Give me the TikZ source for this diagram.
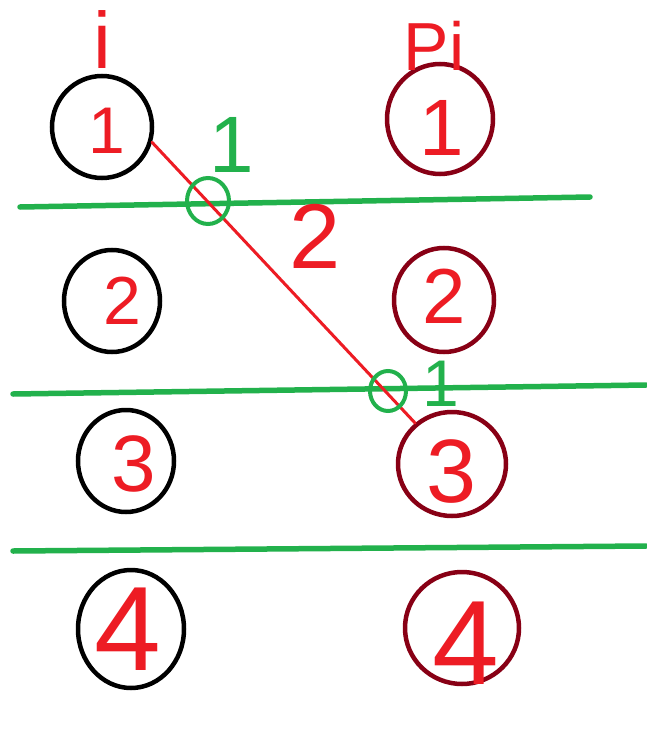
\documentclass[tikz,border=0pt]{standalone}
\usepackage{fontspec}
\setmainfont{Liberation Sans}
\usetikzlibrary{shapes.geometric}
\definecolor{pred}{HTML}{ED1C24}
\definecolor{pgreen}{HTML}{22B14C}
\definecolor{pdark}{HTML}{880015}
\tikzset{
  lcirc/.style={ellipse,draw=black,line width=4.5pt,inner sep=0pt},
  rcirc/.style={ellipse,draw=pdark,line width=4.5pt,inner sep=0pt},
  gcirc/.style={ellipse,draw=pgreen,line width=4pt,inner sep=0pt},
  gline/.style={draw=pgreen,line width=5.5pt,line cap=round},
  rline/.style={draw=pred,line width=3pt,line cap=round},
  rtxt/.style={text=pred,inner sep=0pt,font=\fontsize{#1}{#1}\selectfont},
  gtxt/.style={text=pgreen,inner sep=0pt,font=\fontsize{#1}{#1}\selectfont},
}
\begin{document}
\begin{tikzpicture}[x=1pt,y=-1pt]
\useasboundingbox[fill=white] (0,0) rectangle (646,733);
% green lines
\coordinate (g1a) at (20,207); \coordinate (g1b) at (590,197);
\coordinate (g2a) at (13,394); \coordinate (g2b) at (646,385);
\coordinate (g3a) at (13,551); \coordinate (g3b) at (646,546);
\draw[gline] (g1a) -- (g1b);
\draw[gline] (g2a) -- (g2b);
\draw[gline] (g3a) -- (g3b);
% left circles
\node[lcirc,minimum width=100pt,minimum height=102pt] (L1) at (102,127) {};
\node[lcirc,minimum width=96pt,minimum height=102pt] (L2) at (112,301) {};
\node[lcirc,minimum width=96pt,minimum height=102pt] (L3) at (126,461) {};
\node[lcirc,minimum width=106pt,minimum height=118pt] (L4) at (131,629) {};
% right circles
\node[rcirc,minimum width=106pt,minimum height=110pt] (R1) at (440,119) {};
\node[rcirc,minimum width=100pt,minimum height=104pt] (R2) at (444,300) {};
\node[rcirc,minimum width=108pt,minimum height=104pt] (R3) at (452,464) {};
\node[rcirc,minimum width=114pt,minimum height=112pt] (R4) at (462,628) {};
% digits
\node[rtxt=66] (tL1) at (107,131) {1};
\node[rtxt=68] (tL2) at (122,301) {2};
\node[rtxt=80] (tL3) at (134,464) {3};
\node[rtxt=120] (tL4) at (128,629) {4};
\node[rtxt=80] (tR1) at (442,128) {1};
\node[rtxt=78] (tR2) at (444,296) {2};
\node[rtxt=90] (tR3) at (452,472) {3};
\node[rtxt=120] (tR4) at (466,643) {4};
% headers
\node[rtxt=80] (hi) at (102,40) {i};
\node[rtxt=68] (hPi) at (434,46) {Pi};
% red connector
\draw[rline] (L1.-17) -- (R3.132);
\node[rtxt=92] (lab2) at (315,236) {2};
% green crossing marks
\node[gcirc,minimum width=42pt,minimum height=46pt] (C1) at (208,201) {};
\node[gcirc,minimum width=36pt,minimum height=40pt] (C2) at (388,391) {};
\node[gtxt=80] (n1) at (232,145) {1};
\node[gtxt=66] (n2) at (441,384) {1};
\end{tikzpicture}
\end{document}
